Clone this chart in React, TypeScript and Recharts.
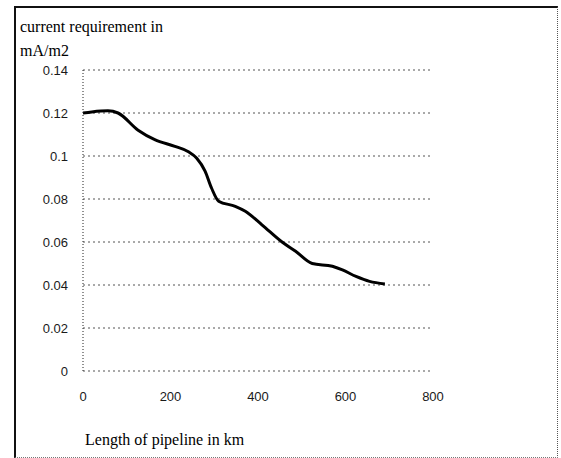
import React from 'react';
import { LineChart, Line, XAxis, YAxis, CartesianGrid } from 'recharts';

const lengthKm = [0, 20, 57, 80, 126, 164, 210, 241, 260, 279, 294, 310, 348, 371, 409, 455, 486, 524, 570, 593, 624, 655, 690];
const currentReq = [0.12, 0.1205, 0.121, 0.12, 0.112, 0.1076, 0.1045, 0.102, 0.099, 0.093, 0.085, 0.079, 0.0766, 0.0743, 0.068, 0.06, 0.0557, 0.05, 0.0487, 0.047, 0.044, 0.0417, 0.0405];
const xTicks = [0, 200, 400, 600, 800];
const yTicks = [0, 0.02, 0.04, 0.06, 0.08, 0.1, 0.12, 0.14];
const yTitleLines = ['current requirement in', 'mA/m2'];
const xTitle = 'Length of pipeline in km';

const data = lengthKm.map((x, i) => ({ x, y: currentReq[i] }));

const tickStyle = { fontSize: 13, fill: '#1a1a1a', fontFamily: '"Liberation Sans", Arial, sans-serif' };
const serif = '"Liberation Serif", "Times New Roman", serif';

export default function App() {
  return (
    <div style={{ position: 'absolute', left: 0, top: 0, width: 561, height: 458, background: '#fff', overflow: 'hidden' }}>
      <div
        style={{
          position: 'absolute',
          left: 14,
          top: 6,
          width: 541,
          height: 449,
          borderLeft: '2px solid #111',
          borderTop: '2px solid #111',
          borderRight: '1px dotted #555',
          borderBottom: '1px dotted #777',
        }}
      />
      <div style={{ position: 'absolute', left: 0, top: 0 }}>
        <LineChart width={561} height={458} data={data} margin={{ top: 70, right: 128, bottom: 57, left: 0 }}>
          <CartesianGrid vertical={false} stroke="#555" strokeDasharray="2 3" />
          <XAxis
            type="number"
            dataKey="x"
            domain={[0, 800]}
            ticks={xTicks}
            axisLine={false}
            tickLine={false}
            tickSize={0}
            tickMargin={21}
            tick={tickStyle}
            interval={0}
            height={30}
          />
          <YAxis
            type="number"
            domain={[0, 0.14]}
            ticks={yTicks}
            width={83}
            axisLine={{ stroke: '#222', strokeDasharray: '1 2' }}
            tickLine={false}
            tickSize={0}
            tickMargin={15}
            tick={tickStyle}
            interval={0}
          />
          <Line type="monotone" dataKey="y" stroke="#000" strokeWidth={3} dot={false} isAnimationActive={false} />
        </LineChart>
      </div>
      {yTitleLines.map((t, i) => (
        <div
          key={t}
          style={{ position: 'absolute', left: 20, top: 18 + i * 24, fontFamily: serif, fontSize: 16, color: '#000', whiteSpace: 'nowrap', lineHeight: '18px' }}
        >
          {t}
        </div>
      ))}
      <div style={{ position: 'absolute', left: 85, top: 431, fontFamily: serif, fontSize: 16, color: '#000', whiteSpace: 'nowrap', lineHeight: '18px' }}>
        {xTitle}
      </div>
    </div>
  );
}
